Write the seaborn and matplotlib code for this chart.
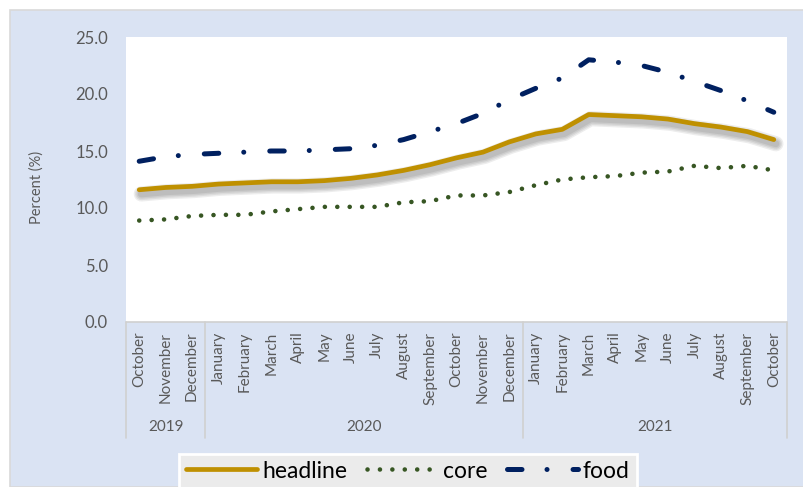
import matplotlib
matplotlib.use("Agg")
import matplotlib.pyplot as plt
import matplotlib.patheffects as pe
from matplotlib.patches import Rectangle
import seaborn as sns
import pandas as pd

# ---- data -------------------------------------------------------------
months = ["October", "November", "December",
          "January", "February", "March", "April", "May", "June", "July",
          "August", "September", "October", "November", "December",
          "January", "February", "March", "April", "May", "June", "July",
          "August", "September", "October"]
years = ["2019", "2020", "2021"]
year_spans = [(0, 2), (3, 14), (15, 24)]

headline = [11.6, 11.8, 11.9, 12.1, 12.2, 12.3, 12.3, 12.4, 12.6, 12.9, 13.3, 13.8,
            14.4, 14.9, 15.8, 16.5, 16.9, 18.2, 18.1, 18.0, 17.8, 17.4, 17.1, 16.7, 16.0]
core = [8.9, 9.0, 9.3, 9.4, 9.4, 9.7, 9.9, 10.1, 10.1, 10.1, 10.5, 10.6,
        11.1, 11.1, 11.4, 12.0, 12.5, 12.7, 12.8, 13.1, 13.2, 13.7, 13.5, 13.7, 13.3]
food = [14.1, 14.5, 14.7, 14.8, 14.9, 15.0, 15.0, 15.1, 15.2, 15.5, 16.0, 16.7,
        17.4, 18.3, 19.5, 20.5, 21.4, 23.0, 22.8, 22.5, 21.9, 21.1, 20.3, 19.4, 18.4]

y_ticks = [0, 5, 10, 15, 20, 25]

df = pd.DataFrame({"idx": range(len(months)), "headline": headline,
                   "core": core, "food": food})

# ---- styling ----------------------------------------------------------
sns.set_style("white")
plt.rcParams["font.family"] = ["Lato", "DejaVu Sans"]
TXT = "#595959"
PANEL = "#DAE3F3"
GRID = "#D0D0D0"

W, H = 804, 487
fig = plt.figure(figsize=(W / 100, H / 100), dpi=100)
fig.patch.set_facecolor("white")

# light blue chart panel behind everything
fig.patches.append(Rectangle((10 / W, 0), 1 - 10 / W, 1 - 10 / H,
                             transform=fig.transFigure, facecolor=PANEL,
                             edgecolor="#D9D9D9", linewidth=1.2, zorder=-10))

L, R, T, B = 126, 787, 37, 322
ax = fig.add_axes([L / W, 1 - B / H, (R - L) / W, (B - T) / H])
ax.set_zorder(1)
ax.set_facecolor("white")

# headline with a soft drop shadow
shadow = [pe.SimpleLineShadow(offset=(1.5, -3.0), shadow_color="black",
                              alpha=0.07, linewidth=w) for w in (11, 9, 7, 5)]
sns.lineplot(data=df, x="idx", y="headline", ax=ax, color="#BF9000",
             linewidth=3.4, label="headline")
ax.lines[-1].set_path_effects(shadow + [pe.Normal()])
ax.lines[-1].set_solid_capstyle("round")

sns.lineplot(data=df, x="idx", y="core", ax=ax, color="#375623",
             linewidth=3.3, label="core")
ln = ax.lines[-1]
ln.set_linestyle((0, (0.01, 2.7)))
ln.set_dash_capstyle("round")

sns.lineplot(data=df, x="idx", y="food", ax=ax, color="#002060",
             linewidth=3.6, label="food")
ln = ax.lines[-1]
ln.set_linestyle((0, (2.9, 5.0, 0.01, 5.2)))
ln.set_dash_capstyle("round")

ax.set_xlim(-0.5, len(months) - 0.5)
ax.set_ylim(0, 25)
ax.set_yticks(y_ticks)
ax.set_yticklabels([f"{v:.1f}" for v in y_ticks], fontsize=12, color=TXT)
ax.set_xticks(range(len(months)))
ax.set_xticklabels(months, rotation=90, fontsize=11, color=TXT)
ax.tick_params(axis="y", length=0, pad=13)
ax.tick_params(axis="x", length=0, pad=7)
ax.set_xlabel("")
ax.set_ylabel("")
for s in ax.spines.values():
    s.set_visible(False)
ax.legend_.remove()

# category axis frame
trans = ax.get_xaxis_transform()
depth = -(438 - B) / (B - T)
ax.plot([-0.5, len(months) - 0.5], [0, 0], transform=trans, color=GRID,
        lw=1.2, clip_on=False)
for xb in (-0.5, 2.5, 14.5, len(months) - 0.5):
    ax.plot([xb, xb], [0, depth], transform=trans, color=GRID, lw=1.2,
            clip_on=False)
for yr, (a, b) in zip(years, year_spans):
    ax.text((a + b) / 2, -(427 - B) / (B - T), yr, transform=trans,
            ha="center", va="center", fontsize=11, color=TXT)

fig.text(37 / W, 1 - 187 / H, "Percent (%)", rotation=90, ha="center",
         va="center", fontsize=10.5, color=TXT)

handles, labels = ax.get_legend_handles_labels()
leg = fig.legend(handles, labels, loc="center", ncol=3,
                 bbox_to_anchor=(408 / W, 1 - 471 / H), fontsize=16.5,
                 handlelength=3.1, handletextpad=0.22, columnspacing=0.85,
                 frameon=True, fancybox=False, borderpad=0.3)
leg.set_zorder(5)
leg.legend_handles[0].set_path_effects([])
frame = leg.get_frame()
frame.set_facecolor("#EBEBEB")
frame.set_edgecolor("white")
frame.set_linewidth(2)
frame.set_alpha(1)
for t in leg.get_texts():
    t.set_color("black")

fig.savefig("out.png", dpi=100)
